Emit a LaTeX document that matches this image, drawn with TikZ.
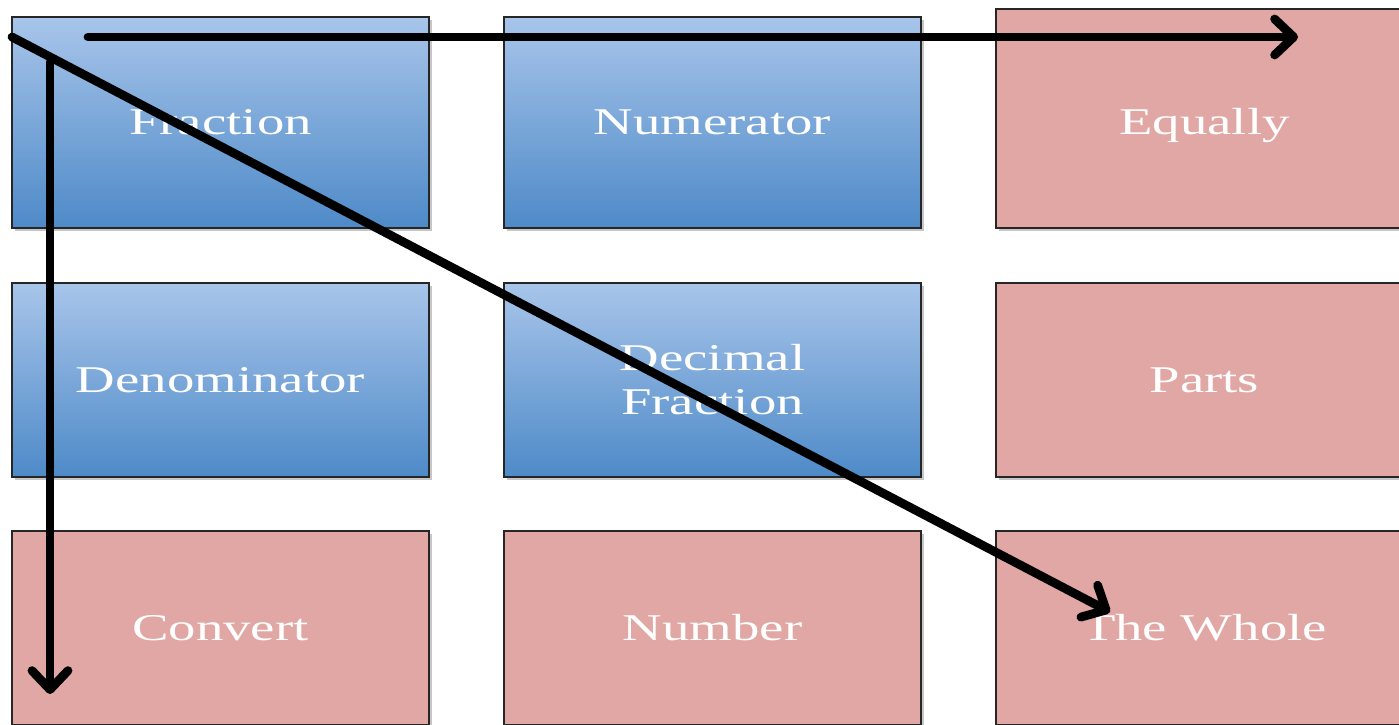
\documentclass[tikz,border=0pt]{standalone}
\usepackage{fontspec}
\setmainfont[FakeStretch=1.45]{Liberation Serif}
\usepackage{xcolor}
\usetikzlibrary{arrows.meta, shadows}

\definecolor{boxtop}{HTML}{A8C5EA}
\definecolor{boxbot}{HTML}{4E8AC8}
\definecolor{rosefill}{HTML}{E1A7A4}

\begin{document}
\begin{tikzpicture}[x=0.02cm, y=-0.02cm,
    word/.style={rectangle, draw=black!85, line width=0.9pt, minimum width=8.34cm,
        text=white, font=\fontsize{21.5}{25}\selectfont, align=center,
        drop shadow={shadow xshift=0.06cm, shadow yshift=-0.06cm, opacity=0.45}},
    bluebox/.style={word, top color=boxtop, bottom color=boxbot},
    rosebox/.style={word, fill=rosefill},
    pointer/.style={line width=5pt, line cap=round,
        -{Straight Barb[length=3.8mm, width=7.2mm, line cap=round, line join=round]}}]
    \useasboundingbox (0,0) rectangle (1399,724);
    \clip (0,0) rectangle (1399,724);

    % top row
    \node[bluebox, minimum height=4.22cm] (frac) at (220.5,122.5) {Fraction};
    \node[bluebox, minimum height=4.22cm] (numer) at (712.5,122.5) {Numerator};
    \node[rosebox, minimum height=4.38cm, text height=23pt] (equal) at (1204.5,118.5) {Equally};

    % middle row
    \node[bluebox, minimum height=3.88cm] (denom) at (220.5,380) {Denominator};
    \node[bluebox, minimum height=3.88cm] (decfrac) at (712.5,380) {Decimal\\Fraction};
    \node[rosebox, minimum height=3.88cm] (parts) at (1204.5,380) {Parts};

    % bottom row
    \node[rosebox, minimum height=3.88cm] (convert) at (220.5,628) {Convert};
    \node[rosebox, minimum height=3.88cm] (number) at (712.5,628) {Number};
    \node[rosebox, minimum height=3.88cm] (whole) at (1204.5,628) {The Whole};

    % arrows across the grid
    \coordinate (hstart) at (88,37);
    \coordinate (hend) at (1298,37);
    \coordinate (vstart) at (50,62);
    \coordinate (vend) at (50,694);
    \coordinate (dstart) at (12,37);
    \coordinate (dend) at (1110,612);
    \draw[pointer] (hstart) -- (hend);
    \draw[pointer] (vstart) -- (vend);
    \draw[pointer] (dstart) -- (dend);
\end{tikzpicture}
\end{document}
